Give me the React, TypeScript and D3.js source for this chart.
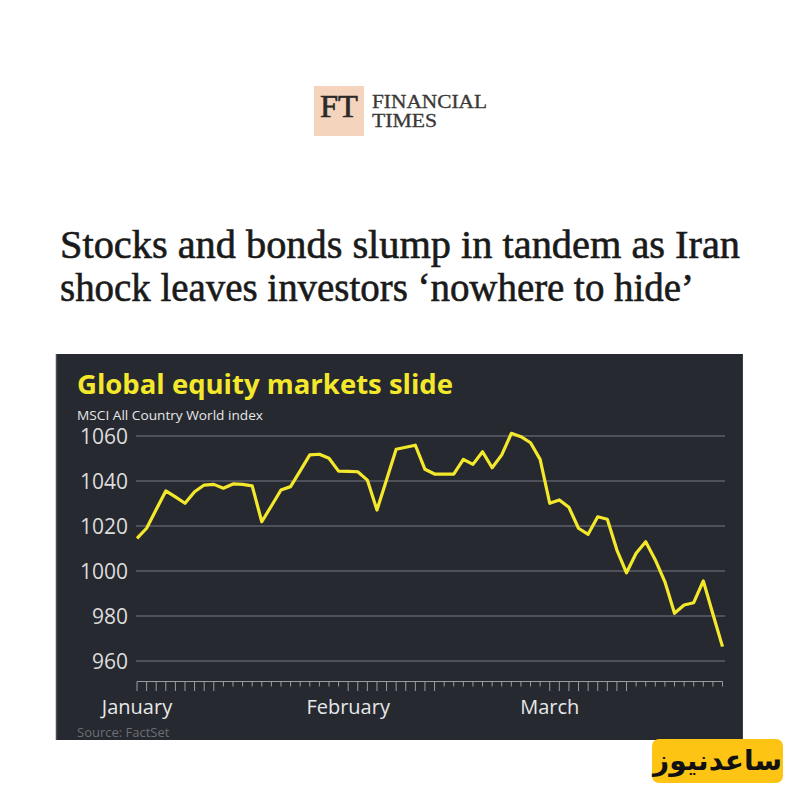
import React from "react";
import * as d3 from "d3";

// MSCI All Country World index, one value per trading day (Jan – Mar)
const values: number[] = [
  1014.5, 1019.0, 1027.3, 1035.6, 1032.9, 1030.1, 1035.2, 1038.2, 1038.5, 1036.8,
  1038.7, 1038.5, 1037.8, 1021.9, 1028.9, 1036.0, 1037.5, 1044.5, 1051.6, 1051.9,
  1050.1, 1044.4, 1044.3, 1044.1, 1040.4, 1027.1, 1040.6, 1054.1, 1055.0, 1055.9,
  1045.2, 1043.1, 1043.1, 1043.1, 1049.6, 1047.4, 1053.0, 1045.9, 1051.6, 1061.2,
  1059.7, 1057.0, 1049.6, 1030.1, 1031.6, 1028.3, 1019.0, 1016.3, 1024.1, 1023.0,
  1009.3, 999.2, 1007.9, 1013.0, 1004.9, 995.2, 981.2, 984.9, 985.9, 995.6,
  980.9, 966.4,
];
const yTicks: number[] = [960, 980, 1000, 1020, 1040, 1060];
const monthLabels: string[] = ["January", "February", "March"];
const monthStartIndex: number[] = [0, 22, 43];
const monthLongTickCount: number[] = [9, 10, 9];

const headline1 = "Stocks and bonds slump in tandem as Iran";
const headline2 = "shock leaves investors \u2018nowhere to hide\u2019";
const chartTitle = "Global equity markets slide";
const chartSubtitle = "MSCI All Country World index";
const sourceText = "Source: FactSet";
const watermark = "ساعدنیوز";

const YELLOW = "#f4e82c";
const PANEL = "#262930";

export default function App() {
  const x = d3.scaleLinear().domain([0, values.length - 1]).range([137, 722.5]);
  const y = d3.scaleLinear().domain([960, 1060]).range([661, 436]);
  const line = d3
    .line<number>()
    .x((_, i) => x(i))
    .y((d) => y(d))
    .curve(d3.curveLinear);

  const isLong = (i: number) =>
    monthStartIndex.some((s, k) => i >= s && i < s + monthLongTickCount[k]);

  const sans = "'Open Sans', Lato, sans-serif";
  const serif = "'Liberation Serif', 'DejaVu Serif', serif";

  return (
    <svg
      width={800}
      height={800}
      viewBox="0 0 800 800"
      style={{ position: "absolute", left: 0, top: 0, background: "#fff" }}
    >
      <rect x={0} y={0} width={800} height={800} fill="#ffffff" />

      {/* FT logo */}
      <rect x={314} y={86} width={50} height={50} fill="#f4d4bc" />
      <text
        x={339}
        y={117}
        textAnchor="middle"
        fontFamily={serif}
        fontSize={31}
        fill="#2b2a28"
        stroke="#2b2a28"
        strokeWidth={0.6}
        textLength={38}
        lengthAdjust="spacingAndGlyphs"
      >
        FT
      </text>
      <text
        x={372}
        y={108}
        fontFamily={serif}
        fontSize={18.5}
        fill="#3a3836"
        stroke="#3a3836"
        strokeWidth={0.3}
        textLength={115}
        lengthAdjust="spacingAndGlyphs"
      >
        FINANCIAL
      </text>
      <text
        x={372}
        y={127}
        fontFamily={serif}
        fontSize={18.5}
        fill="#3a3836"
        stroke="#3a3836"
        strokeWidth={0.3}
        textLength={65}
        lengthAdjust="spacingAndGlyphs"
      >
        TIMES
      </text>

      {/* Headline */}
      <text
        x={60}
        y={258}
        fontFamily={serif}
        fontSize={40}
        fill="#1a1a1a"
        stroke="#1a1a1a"
        strokeWidth={0.6}
        textLength={680}
        lengthAdjust="spacingAndGlyphs"
      >
        {headline1}
      </text>
      <text
        x={60}
        y={301}
        fontFamily={serif}
        fontSize={40}
        fill="#1a1a1a"
        stroke="#1a1a1a"
        strokeWidth={0.6}
        textLength={634}
        lengthAdjust="spacingAndGlyphs"
      >
        {headline2}
      </text>

      {/* Chart panel */}
      <rect x={56} y={354} width={687} height={386} fill={PANEL} />
      <line x1={56.5} y1={354} x2={56.5} y2={740} stroke="#4a4d55" strokeWidth={1.5} />
      <line x1={742.5} y1={354} x2={742.5} y2={740} stroke="#3a3d45" strokeWidth={1} />

      <text
        x={77}
        y={394}
        fontFamily={sans}
        fontWeight={700}
        fontSize={26}
        fill={YELLOW}
        textLength={376}
        lengthAdjust="spacingAndGlyphs"
      >
        {chartTitle}
      </text>
      <text
        x={77}
        y={419.5}
        fontFamily={sans}
        fontSize={13.5}
        fill="#e6e6e6"
        textLength={186}
        lengthAdjust="spacingAndGlyphs"
      >
        {chartSubtitle}
      </text>

      {/* Gridlines and y labels */}
      {yTicks.map((t) => (
        <g key={t}>
          <line x1={136} x2={725} y1={y(t)} y2={y(t)} stroke="#5c5f68" strokeWidth={1.5} />
          <text
            x={128}
            y={y(t) + 8}
            textAnchor="end"
            fontFamily={sans}
            fontSize={21}
            fill="#dcdcdc"
          >
            {t}
          </text>
        </g>
      ))}

      {/* Data line */}
      <path
        d={line(values) || ""}
        fill="none"
        stroke={YELLOW}
        strokeWidth={3.2}
        strokeLinejoin="round"
      />

      {/* X axis ticks */}
      <line x1={x(0)} x2={x(values.length - 1)} y1={681.5} y2={681.5} stroke="#9a9ca2" strokeWidth={1} />
      {values.map((_, i) => (
        <line
          key={i}
          x1={x(i)}
          x2={x(i)}
          y1={681.5}
          y2={isLong(i) ? 691 : 686.5}
          stroke="#9a9ca2"
          strokeWidth={1}
        />
      ))}
      {monthLabels.map((m, k) => (
        <text
          key={m}
          x={x(monthStartIndex[k])}
          y={714}
          textAnchor="middle"
          fontFamily={sans}
          fontSize={20}
          fill="#e8e8e8"
        >
          {m}
        </text>
      ))}

      <text x={77} y={737} fontFamily={sans} fontSize={13} fill="#6b6e76">
        {sourceText}
      </text>

      {/* Watermark */}
      <rect x={652} y={739} width={131} height={44} rx={7} fill="#fdc414" />
      <text
        x={717.5}
        y={770}
        textAnchor="middle"
        direction="rtl"
        fontFamily="'DejaVu Sans', 'Noto Sans', sans-serif"
        fontWeight={700}
        fontSize={28}
        fill="#111"
      >
        {watermark}
      </text>
    </svg>
  );
}
